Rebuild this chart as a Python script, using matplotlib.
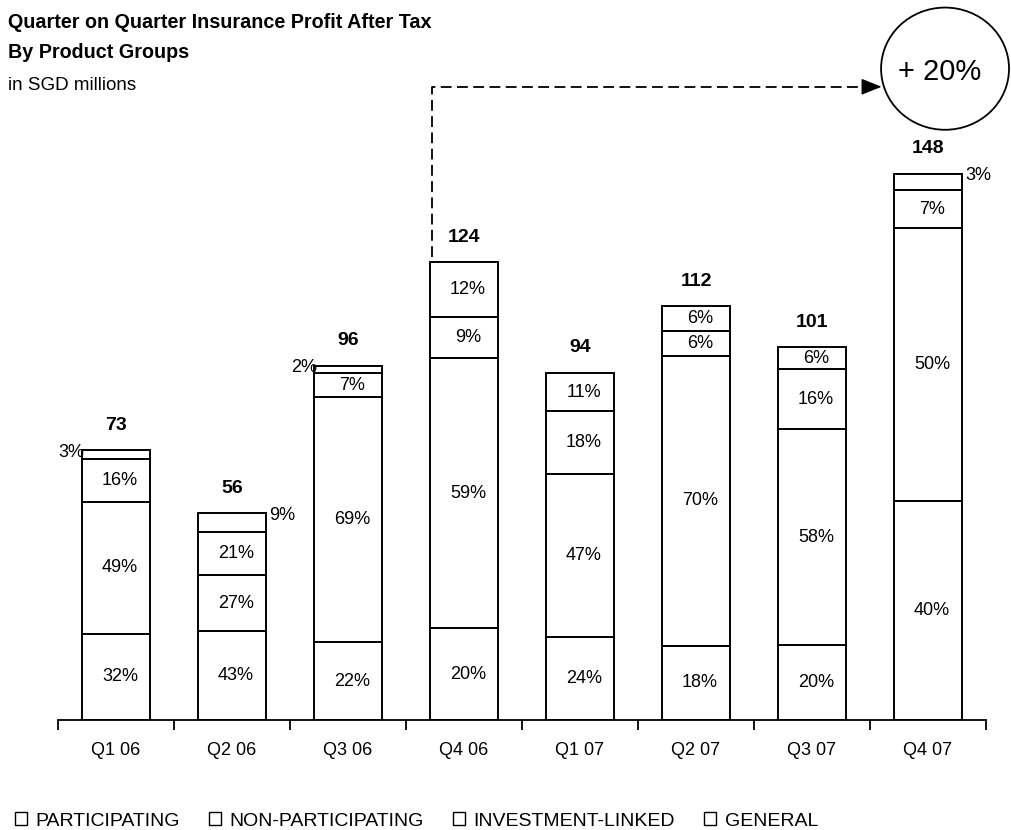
import matplotlib
matplotlib.use('Agg')
import matplotlib.pyplot as plt
from matplotlib.patches import Ellipse, Rectangle

plt.rcParams['font.family'] = ['Liberation Sans', 'DejaVu Sans']

quarters = ['Q1 06', 'Q2 06', 'Q3 06', 'Q4 06', 'Q1 07', 'Q2 07', 'Q3 07', 'Q4 07']
totals = [73, 56, 96, 124, 94, 112, 101, 148]
groups = ['PARTICIPATING', 'NON-PARTICIPATING', 'INVESTMENT-LINKED', 'GENERAL']
# shares in % of each quarter, bottom to top
participating = [32, 43, 22, 20, 24, 18, 20, 40]
non_participating = [49, 27, 69, 59, 47, 70, 58, 50]
investment_linked = [16, 21, 7, 9, 18, 6, 16, 7]
general = [3, 9, 2, 12, 11, 6, 6, 3]
growth_label = '+ 20%'

shares = [participating, non_participating, investment_linked, general]
# small slices whose label sits outside the bar
outside = {(0, 3): 'left', (1, 3): 'right', (2, 3): 'left', (7, 3): 'right'}

W, H = 1012, 830
fig = plt.figure(figsize=(W / 100, H / 100), dpi=100)
ax = fig.add_axes([58 / W, 110 / H, 928 / W, 720 / H])
ax.set_xlim(-0.5, 7.5)
ax.set_ylim(0, 195)

fs = 13
bw = 0.59
x = list(range(len(quarters)))
bottoms = [0.0] * len(quarters)
for g, pct in enumerate(shares):
    heights = [t * p / 100 for t, p in zip(totals, pct)]
    ax.bar(x, heights, bw, bottom=bottoms, color='white', edgecolor='black', linewidth=1.4, zorder=2)
    for i in x:
        lab = '%d%%' % pct[i]
        if (i, g) in outside:
            side = outside[(i, g)]
            yy = totals[i] - 0.5
            if side == 'left':
                ax.annotate(lab, (i - bw / 2, yy), xytext=(3, 0), textcoords='offset pixels',
                            ha='right', va='center', fontsize=fs)
            else:
                ax.annotate(lab, (i + bw / 2, yy), xytext=(3, 0), textcoords='offset pixels',
                            ha='left', va='center', fontsize=fs)
        else:
            ax.text(i + 0.035, bottoms[i] + heights[i] / 2, lab, ha='center', va='center', fontsize=fs)
    bottoms = [b + h for b, h in zip(bottoms, heights)]

for i, t in zip(x, totals):
    ax.annotate(str(t), (i, t), xytext=(0, 25), textcoords='offset pixels',
                ha='center', va='center', fontsize=14, fontweight='bold')

# dashed connector Q4 06 -> Q4 07
ax.plot([2.72, 2.72, 6.5], [totals[3] + 1.5, 171.5, 171.5], color='black', lw=1.3,
        linestyle=(0, (6, 3)), clip_on=False)
ax.annotate('', xy=(6.6, 171.5), xytext=(6.45, 171.5),
            arrowprops=dict(arrowstyle='-|>,head_length=0.7,head_width=0.28', color='black',
                            mutation_scale=18, lw=1, shrinkA=0, shrinkB=0), annotation_clip=False)
ax.add_patch(Ellipse((7.147, 176.4), 1.103, 33.1, facecolor='none', edgecolor='black', lw=1.3, clip_on=False))
ax.text(7.1, 175.6, growth_label, ha='center', va='center', fontsize=21, clip_on=False)

for s in ['left', 'right', 'top']:
    ax.spines[s].set_visible(False)
ax.spines['bottom'].set_linewidth(1.3)
ax.set_yticks([])
ax.set_xticks(x)
ax.set_xticklabels(quarters, fontsize=fs)
ax.set_xticks([i - 0.5 for i in range(len(quarters) + 1)], minor=True)
ax.tick_params(axis='x', which='major', length=0, pad=16)
ax.tick_params(axis='x', which='minor', length=7, width=1.3, direction='out')

fig.text(8 / W, 1 - 22 / H, 'Quarter on Quarter Insurance Profit After Tax', fontsize=14.2,
         fontweight='bold', va='center')
fig.text(8 / W, 1 - 53 / H, 'By Product Groups', fontsize=14.2, fontweight='bold', va='center')
fig.text(8 / W, 1 - 86 / H, 'in SGD millions', fontsize=13.5, va='center')

handles = [Rectangle((0, 0), 1, 1, facecolor='white', edgecolor='black', lw=1) for _ in groups]
fig.legend(handles, groups, loc='center left', bbox_to_anchor=(15 / W, 1 - 821 / H), ncol=4,
           frameon=False, handlelength=0.6, handleheight=0.62, handletextpad=0.45,
           columnspacing=1.5, fontsize=14, borderaxespad=0, borderpad=0)

fig.savefig('out.png', dpi=100)
